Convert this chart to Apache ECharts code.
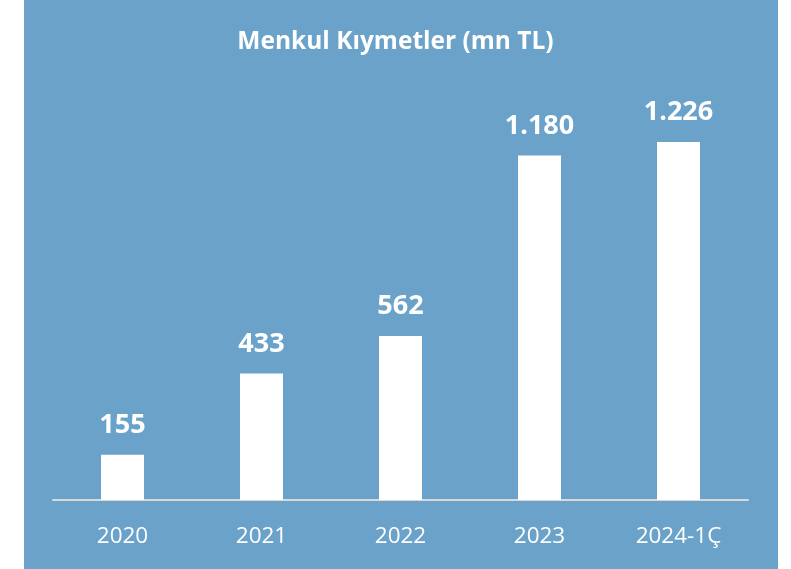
<!DOCTYPE html>
<html><head><meta charset="utf-8">
<script src="https://cdn.jsdelivr.net/npm/echarts@6/dist/echarts.min.js"></script>
<style>html,body{margin:0;padding:0;background:#fff;}#c{width:791px;height:569px;}</style>
</head><body><div id="c"></div>
<script>
const categories = ['2020', '2021', '2022', '2023', '2024-1Ç'];
const values = [155, 433, 562, 1180, 1226];
const valueLabels = ['155', '433', '562', '1.180', '1.226'];
const titleText = 'Menkul Kıymetler (mn TL)';

const chart = echarts.init(document.getElementById('c'));
chart.setOption({
  backgroundColor: '#ffffff',
  animation: false,
  graphic: [{ type: 'rect', z: -10, shape: { x: 24, y: 0, width: 754, height: 569 }, style: { fill: '#6AA2C9' } }],
  title: { text: titleText, left: 'center', top: 25,
    textStyle: { color: '#fff', fontFamily: 'Open Sans', fontWeight: 'bold', fontSize: 24.5 } },
  grid: { left: 53, right: 43, top: 62, bottom: 69 },
  xAxis: { type: 'category', data: categories,
    axisLine: { lineStyle: { color: '#D9D9D9', width: 2 } }, axisTick: { show: false },
    axisLabel: { color: '#fff', fontFamily: 'Open Sans', fontSize: 22.5, margin: 25 } },
  yAxis: { type: 'value', min: 0, max: 1500, show: false, splitLine: { show: false } },
  series: [{ type: 'bar', data: values, barWidth: 43,
    itemStyle: { color: '#fff' },
    label: { show: true, position: 'top', distance: 16, color: '#fff', fontFamily: 'Open Sans', fontWeight: 'bold', fontSize: 27,
      formatter: p => valueLabels[p.dataIndex] } }]
});
</script></body></html>
